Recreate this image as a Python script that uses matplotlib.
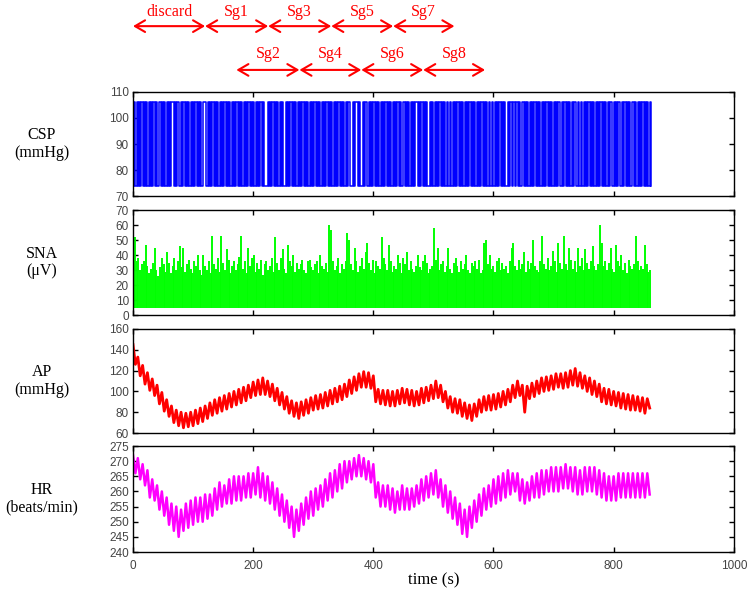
import numpy as np
import matplotlib
matplotlib.use('Agg')
import matplotlib.pyplot as plt
from matplotlib.transforms import blended_transform_factory

# CSP switches between two pressure levels, one sample every 2 s (1 = high, 0 = low)
csp_high = 106
csp_low = 74
csp_bits = [
    "010101010101010101010", "010101010101", "101010", "01010101010101010101",
    "1", "10101010101010101010101010101010101010101010101010", "0",
    "010101010101010", "010101010101010101010101010101010101010101010101010101",
    "10", "0101", "1010", "0101", "101010101010101010101010101010",
    "010101010101", "1010101010", "01010101010101010",
    "01010101010101010101010101010101010", "0101010101010", "010101", "101010",
    "010101010101010101010101010101010", "010101010101", "1010",
    "01010101010101010101010101", "10101010", "0101010101", "1010101010101010",
]
csp_dt = 2

# SNA burst peaks, one every 3 s
sna_floor = 5
sna_peaks = [
    40, 52, 36, 38, 30, 34, 36, 47, 33, 28, 31, 35, 45, 30, 26, 32, 38, 34, 29, 42,
    35, 28, 33, 38, 30, 36, 46, 32, 45, 29, 34, 37, 31, 28, 36, 33, 40, 30, 27, 40,
    33, 30, 36, 28, 53, 34, 31, 38, 29, 53, 35, 30, 44, 37, 28, 33, 36, 30, 34, 39,
    53, 31, 36, 28, 45, 33, 38, 40, 29, 35, 31, 37, 27, 34, 36, 30, 33, 38, 29, 52,
    35, 30, 38, 44, 31, 28, 47, 36, 33, 40, 29, 35, 31, 34, 37, 30, 28, 36, 37, 32,
    30, 34, 36, 28, 40, 33, 31, 35, 29, 60, 57, 36, 30, 33, 38, 28, 34, 31, 36, 55,
    50, 34, 30, 45, 36, 29, 33, 38, 31, 42, 48, 35, 30, 37, 28, 36, 33, 31, 52, 38,
    34, 30, 47, 36, 29, 33, 31, 40, 35, 28, 38, 34, 42, 30, 36, 31, 29, 33, 40, 32,
    30, 36, 40, 35, 28, 31, 33, 58, 37, 45, 30, 34, 36, 29, 33, 45, 31, 28, 35, 38,
    33, 29, 36, 31, 34, 40, 30, 28, 35, 33, 36, 31, 37, 28, 30, 48, 50, 34, 40, 31,
    33, 29, 36, 38, 30, 35, 31, 33, 28, 36, 45, 48, 33, 30, 37, 31, 34, 42, 29, 36,
    31, 35, 50, 33, 30, 29, 36, 53, 34, 31, 38, 30, 33, 43, 36, 29, 48, 35, 31, 53,
    34, 30, 45, 37, 31, 36, 29, 45, 33, 38, 30, 44, 35, 31, 36, 46, 33, 30, 34, 60,
    48, 33, 36, 30, 35, 45, 31, 29, 47, 36, 33, 40, 30, 35, 28, 37, 33, 31, 34, 53,
    36, 30, 33, 31, 47, 34, 29, 30,
]
sna_dt = 3

# arterial pressure, one sample every 4 s
ap = [
    145, 126, 133, 115, 125, 107, 118, 101, 112, 96, 106, 88, 99, 81, 92,
    76, 86, 70, 82, 67, 80, 65, 79, 66, 80, 67, 82, 69, 84, 71,
    86, 74, 89, 77, 92, 79, 94, 81, 96, 83, 98, 85, 100, 87, 102,
    89, 104, 91, 106, 94, 109, 96, 111, 97, 113, 97, 110, 95, 107, 91,
    103, 87, 99, 83, 95, 79, 91, 76, 89, 74, 90, 77, 92, 79, 94,
    82, 96, 83, 97, 84, 99, 86, 101, 88, 103, 90, 105, 92, 107, 95,
    111, 98, 114, 101, 117, 104, 119, 104, 118, 103, 115, 90, 102, 88, 101,
    87, 101, 86, 100, 86, 101, 88, 103, 89, 102, 87, 101, 86, 100, 87,
    103, 89, 104, 91, 106, 93, 110, 94, 106, 90, 100, 84, 95, 80, 93,
    79, 92, 76, 89, 74, 87, 72, 88, 76, 92, 80, 95, 82, 96, 82,
    97, 83, 98, 85, 100, 87, 102, 90, 106, 94, 110, 96, 106, 80, 105,
    93, 108, 95, 110, 98, 113, 100, 114, 101, 115, 102, 117, 104, 117, 103,
    118, 104, 120, 106, 122, 105, 118, 103, 115, 100, 113, 97, 110, 95, 107,
    90, 103, 88, 102, 87, 100, 86, 99, 84, 98, 83, 97, 82, 96, 82,
    95, 81, 94, 79, 93, 84,
]
ap_dt = 4

# heart rate, one sample every 4 s
hr = [
    272, 266, 271, 264, 269, 262, 267, 258, 264, 257, 262, 254, 260, 252, 258,
    249, 256, 247, 255, 245, 254, 247, 256, 248, 257, 249, 258, 250, 258, 250,
    259, 251, 259, 252, 261, 254, 263, 255, 262, 256, 264, 256, 265, 257, 265,
    257, 265, 258, 266, 258, 266, 259, 268, 258, 266, 257, 265, 256, 263, 254,
    261, 252, 259, 250, 257, 248, 255, 245, 254, 247, 256, 249, 258, 251, 260,
    252, 261, 254, 262, 255, 264, 257, 266, 258, 267, 260, 269, 261, 270, 263,
    270, 264, 271, 265, 272, 265, 271, 264, 270, 263, 269, 258, 263, 255, 262,
    255, 262, 254, 261, 253, 260, 254, 262, 254, 261, 254, 261, 255, 262, 256,
    264, 257, 265, 258, 266, 259, 267, 258, 264, 255, 262, 253, 260, 251, 258,
    249, 256, 246, 254, 245, 255, 248, 257, 250, 259, 252, 261, 254, 262, 255,
    264, 256, 265, 257, 266, 258, 267, 259, 266, 260, 266, 257, 264, 256, 263,
    257, 265, 258, 266, 258, 267, 259, 267, 260, 268, 260, 268, 260, 268, 261,
    269, 261, 268, 260, 268, 259, 267, 259, 268, 260, 268, 260, 268, 259, 267,
    258, 266, 257, 265, 257, 265, 257, 266, 258, 266, 258, 266, 258, 266, 258,
    266, 258, 266, 258, 266, 259,
]
hr_dt = 4

# segment markers above the plot
row1_edges = [0, 120, 225, 330, 433, 535]
row1_labels = ['discard', 'Sg1', 'Sg3', 'Sg5', 'Sg7']
row2_edges = [172, 277, 380, 483, 586]
row2_labels = ['Sg2', 'Sg4', 'Sg6', 'Sg8']

panel_labels = ['CSP\n(mmHg)', 'SNA\n(\u03bcV)', 'AP\n(mmHg)', 'HR\n(beats/min)']
ylims = [(70, 110), (0, 70), (60, 160), (240, 275)]
yticks = [np.arange(70, 111, 10), np.arange(0, 71, 10), np.arange(60, 161, 20), np.arange(240, 276, 5)]

fig = plt.figure(figsize=(7.51, 6.08), dpi=100)
left, width = 0.1771, 0.800
boxes = [(0.6776, 0.1711), (0.4819, 0.1727), (0.2878, 0.1711), (0.0921, 0.1743)]
axes = [fig.add_axes([left, b, width, h]) for b, h in boxes]

csp = [csp_high if c == '1' else csp_low for c in ''.join(csp_bits)]
axes[0].plot(np.arange(len(csp)) * csp_dt, csp, color='#0000ff', lw=1.1, drawstyle='steps-post')
axes[1].vlines(np.arange(len(sna_peaks)) * sna_dt, sna_floor, sna_peaks, color='#00ff00', lw=1.4)
axes[2].plot(np.arange(len(ap)) * ap_dt, ap, color='#ff0000', lw=2.0)
axes[3].plot(np.arange(len(hr)) * hr_dt, hr, color='#ff00ff', lw=1.8)

for i, ax in enumerate(axes):
    ax.set_xlim(0, 1000)
    ax.set_ylim(*ylims[i])
    ax.set_yticks(yticks[i])
    ax.set_xticks(np.arange(0, 1001, 200))
    ax.tick_params(direction='in', length=3.5, width=1, top=True, right=True,
                   labelsize=8.5, labelcolor='#444444', pad=3)
    for lab in ax.get_yticklabels() + ax.get_xticklabels():
        lab.set_fontfamily('Liberation Sans')
    for s in ax.spines.values():
        s.set_linewidth(1.0)
    if i < 3:
        ax.tick_params(labelbottom=False)
    else:
        ax.tick_params(axis='x', pad=6)
    b, h = boxes[i]
    fig.text(0.056, b + h / 2, panel_labels[i], ha='center', va='center',
             fontsize=11.5, family='Liberation Serif', linespacing=1.1)

fig.text(left + width / 2, 0.046, 'time (s)', ha='center', va='center',
         fontsize=12, family='Liberation Serif')

# double headed arrows for the segments
trans = blended_transform_factory(axes[0].transData, fig.transFigure)
for edges, labels, y_arr, y_txt in [(row1_edges, row1_labels, 0.957, 0.980),
                                     (row2_edges, row2_labels, 0.885, 0.911)]:
    for k, lab in enumerate(labels):
        x0, x1 = edges[k], edges[k + 1]
        axes[0].annotate('', xy=(x1, y_arr), xytext=(x0, y_arr),
                         xycoords=('data', 'figure fraction'),
                         textcoords=('data', 'figure fraction'),
                         annotation_clip=False,
                         arrowprops=dict(arrowstyle='<->,head_length=0.6,head_width=0.35',
                                         color='#ff0000', lw=1.5, shrinkA=0, shrinkB=0,
                                         mutation_scale=12))
        axes[0].text((x0 + x1) / 2, y_txt, lab, transform=trans, ha='center', va='center',
                     color='#ff0000', fontsize=11.5, family='Liberation Serif')

fig.savefig('out.png', dpi=100)
